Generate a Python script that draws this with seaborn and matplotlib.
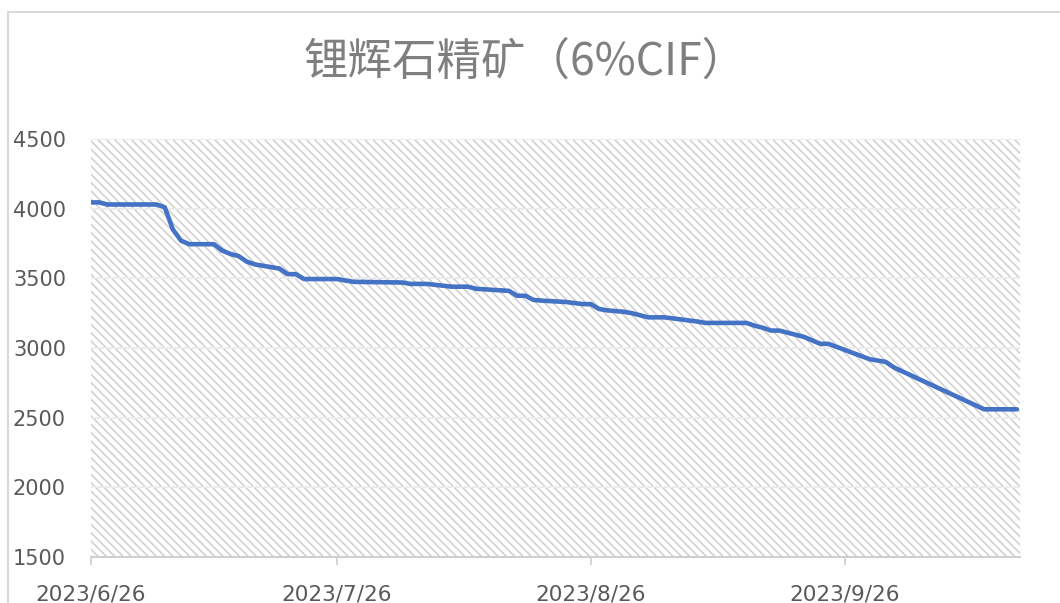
import matplotlib.pyplot as plt
import matplotlib.patches as patches
import pandas as pd
import seaborn as sns

# 数据：拐点
dates = ['2023-06-26', '2023-06-27', '2023-06-28', '2023-07-04', '2023-07-05',
         '2023-07-06', '2023-07-07', '2023-07-08', '2023-07-11', '2023-07-12',
         '2023-07-13', '2023-07-14', '2023-07-15', '2023-07-16', '2023-07-18',
         '2023-07-19', '2023-07-20', '2023-07-21', '2023-07-22', '2023-07-26',
         '2023-07-28', '2023-08-03', '2023-08-04', '2023-08-06', '2023-08-09',
         '2023-08-11', '2023-08-12', '2023-08-16', '2023-08-17', '2023-08-18',
         '2023-08-19', '2023-08-20', '2023-08-23', '2023-08-25', '2023-08-26',
         '2023-08-27', '2023-08-28', '2023-08-30', '2023-08-31', '2023-09-02',
         '2023-09-04', '2023-09-08', '2023-09-09', '2023-09-14', '2023-09-15',
         '2023-09-16', '2023-09-17', '2023-09-18', '2023-09-21', '2023-09-23',
         '2023-09-24', '2023-09-29', '2023-10-01', '2023-10-02', '2023-10-13',
         '2023-10-17']
prices = [4045, 4045, 4030, 4030, 4010,
          3850, 3770, 3745, 3745, 3700,
          3675, 3660, 3620, 3600, 3580,
          3570, 3530, 3530, 3495, 3495,
          3475, 3470, 3460, 3460, 3440,
          3440, 3425, 3410, 3375, 3375,
          3345, 3340, 3330, 3315, 3315,
          3280, 3270, 3260, 3250, 3220,
          3220, 3190, 3180, 3180, 3160,
          3145, 3125, 3125, 3080, 3030,
          3030, 2920, 2900, 2860, 2560,
          2560]
tick_dates = ['2023-06-26', '2023-07-26', '2023-08-26', '2023-09-26']
y_ticks = [1500, 2000, 2500, 3000, 3500, 4000, 4500]

df = pd.DataFrame({'date': pd.to_datetime(dates), 'price': prices})

sns.set_theme(style='white')
plt.rcParams['font.family'] = ['Noto Sans CJK SC', 'DejaVu Sans']
plt.rcParams['hatch.color'] = '#d2d2d2'
plt.rcParams['hatch.linewidth'] = 1.2

fig = plt.figure(figsize=(10.6, 6.03), dpi=100)
ax = fig.add_axes([91 / 1060, 46 / 603, 929 / 1060, 418 / 603])

# 外框
fig.patches.append(patches.Rectangle((8 / 1060, -0.1), 1.2, (603 - 12) / 603 + 0.1,
                                     transform=fig.transFigure, fill=False,
                                     edgecolor='#d9d9d9', linewidth=1.5))

# 斜线底纹
ax.add_patch(patches.Rectangle((0, 0), 1, 1, transform=ax.transAxes,
                               facecolor='white', hatch='\\\\\\\\',
                               edgecolor='#d2d2d2', linewidth=0, zorder=0))

for y in y_ticks[1:]:
    ax.axhline(y, color='#ececec', linewidth=1.4, zorder=1)

sns.lineplot(data=df, x='date', y='price', ax=ax, color='#4472C4',
             linewidth=3.3, zorder=3)

start = pd.Timestamp(dates[0])
end = pd.Timestamp(dates[-1]) + pd.Timedelta(hours=9)
ax.set_xlim(start, end)
ax.set_ylim(1500, 4500)
ax.set_yticks(y_ticks)
ax.set_yticklabels([str(v) for v in y_ticks], family='DejaVu Sans')
td = pd.to_datetime(tick_dates)
ax.set_xticks(td)
ax.set_xticklabels([f'{d.year}/{d.month}/{d.day}' for d in td], family='DejaVu Sans')

ax.tick_params(axis='y', length=0, pad=18, labelsize=15, labelcolor='#595959')
ax.tick_params(axis='x', length=6, width=1.2, color='#d0d0d0', pad=14,
               labelsize=15.5, labelcolor='#595959', bottom=True)
for s in ['top', 'right', 'left']:
    ax.spines[s].set_visible(False)
ax.spines['bottom'].set_color('#d0d0d0')
ax.spines['bottom'].set_linewidth(1.5)
ax.set_xlabel('')
ax.set_ylabel('')

fig.text(525 / 1060, 1 - 62 / 603, '锂辉石精矿（6%CIF）', ha='center', va='center',
         fontsize=32, color='#7f7f7f')

fig.savefig('out.png', dpi=100, facecolor='white')
